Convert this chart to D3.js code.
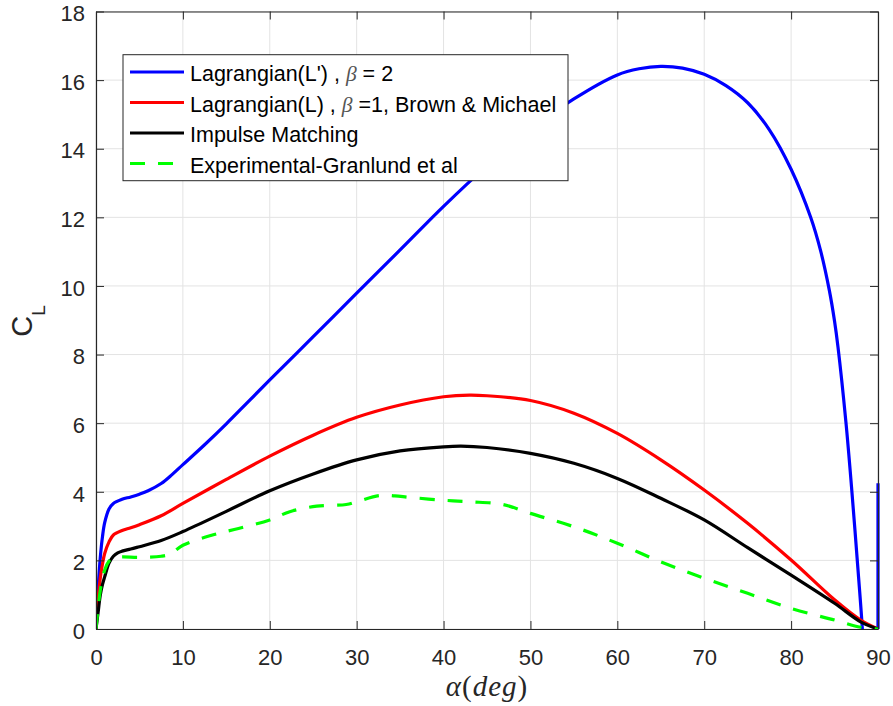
<!DOCTYPE html>
<html>
<head>
<meta charset="utf-8">
<script src="https://cdn.jsdelivr.net/npm/d3@7"></script>
<style>
  body { margin: 0; background: #fff; }
  text { font-family: "Liberation Sans", Arial, Helvetica, sans-serif; }
</style>
</head>
<body>
<svg id="chart" width="893" height="706"></svg>
<script>
// Axis ticks
const alphaTicks = [0, 10, 20, 30, 40, 50, 60, 70, 80, 90];
const clTicks = [0, 2, 4, 6, 8, 10, 12, 14, 16, 18];

// Lagrangian (L'), beta = 2
const lagPrimeAlpha = [0, 0.25, 0.5, 0.75, 1, 1.5, 2, 3, 4, 5, 6, 7.5, 8.75, 10, 12.5, 15, 17.5, 20, 25, 30, 35, 40, 45, 50, 55, 60, 62.5, 65, 67.5, 70, 72.5, 75, 77.5, 80, 82.25, 83.4, 84.4, 85.0, 85.4, 86.3, 86.95, 87.6, 88.2, 88.6, 89, 89.5, 89.9, 90];
const lagPrimeCL    = [0, 1.2, 2.1, 2.7, 3.1, 3.5, 3.66, 3.78, 3.85, 3.93, 4.03, 4.24, 4.5, 4.79, 5.37, 5.98, 6.62, 7.26, 8.52, 9.79, 11.05, 12.32, 13.5, 14.55, 15.45, 16.15, 16.33, 16.40, 16.35, 16.17, 15.84, 15.34, 14.55, 13.4, 12.0, 11.02, 9.87, 8.97, 8.21, 6.05, 4.15, 2.05, 0, -2, -6, -15, -40, 4.25];

// Lagrangian (L), beta = 1, Brown & Michael
const lagAlpha = [0, 0.25, 0.5, 0.75, 1, 1.5, 2, 3, 4, 5, 7.5, 10, 15, 20, 25, 30, 35, 40, 43, 45, 50, 55, 60, 65, 70, 75, 80, 85, 88, 90];
const lagCL    = [0, 0.9, 1.5, 1.9, 2.2, 2.54, 2.74, 2.87, 2.95, 3.04, 3.3, 3.66, 4.36, 5.04, 5.65, 6.17, 6.53, 6.77, 6.82, 6.8, 6.66, 6.29, 5.70, 4.93, 4.05, 3.08, 2.01, 0.85, 0.26, 0];

// Impulse matching
const impAlpha = [0, 0.25, 0.5, 0.75, 1, 1.5, 2, 2.5, 3, 4, 5, 7.5, 10, 15, 20, 25, 30, 35, 40, 42, 45, 50, 55, 60, 65, 70, 75, 80, 85, 88, 90];
const impCL    = [0, 0.5, 1.0, 1.3, 1.52, 1.92, 2.12, 2.22, 2.27, 2.33, 2.40, 2.58, 2.84, 3.43, 4.03, 4.52, 4.93, 5.19, 5.31, 5.33, 5.29, 5.12, 4.83, 4.39, 3.81, 3.18, 2.37, 1.57, 0.75, 0.21, 0];

// Experimental, Granlund et al
const expAlpha = [0, 0.5, 1, 1.5, 2, 3, 5, 7.5, 8.5, 10, 13.4, 16.4, 20, 22.3, 25.4, 28.8, 30, 32.6, 34.4, 36, 39.6, 43, 46.8, 50, 55, 60, 65, 70, 75, 80, 85, 88, 90];
const expCL    = [0, 1.14, 1.72, 1.98, 2.08, 2.1, 2.09, 2.12, 2.18, 2.44, 2.74, 2.93, 3.18, 3.42, 3.58, 3.63, 3.71, 3.89, 3.88, 3.84, 3.76, 3.71, 3.63, 3.37, 2.98, 2.50, 1.96, 1.48, 1.04, 0.60, 0.26, 0.05, 0];

const seriesNames = [
  ["Lagrangian(L') , ", "β", " = 2"],
  ["Lagrangian(L) , ", "β", " =1, Brown & Michael"],
  ["Impulse Matching"],
  ["Experimental-Granlund et al"]
];

const series = [
  { a: lagPrimeAlpha, v: lagPrimeCL, color: "#0000ff", dash: null },
  { a: lagAlpha,      v: lagCL,      color: "#ff0000", dash: null },
  { a: impAlpha,      v: impCL,      color: "#000000", dash: null },
  { a: expAlpha,      v: expCL,      color: "#00ff00", dash: "15,13" }
];

const svg = d3.select("#chart");
const plotLeft = 96, plotRight = 878, plotTop = 11.5, plotBottom = 629;
const axisColor = "#262626";

const x = d3.scaleLinear().domain([0, 90]).range([plotLeft, plotRight]);
const y = d3.scaleLinear().domain([0, 18]).range([plotBottom, plotTop]);

// grid
const grid = svg.append("g");
grid.selectAll(".gx").data(alphaTicks).join("line")
  .attr("x1", d => x(d)).attr("x2", d => x(d))
  .attr("y1", plotTop).attr("y2", plotBottom)
  .attr("stroke", "#e3e3e3").attr("stroke-width", 1);
grid.selectAll(".gy").data(clTicks).join("line")
  .attr("x1", plotLeft).attr("x2", plotRight)
  .attr("y1", d => y(d)).attr("y2", d => y(d))
  .attr("stroke", "#e3e3e3").attr("stroke-width", 1);

// clip to the axes box
svg.append("defs").append("clipPath").attr("id", "plotClip")
  .append("rect").attr("x", plotLeft).attr("y", plotTop)
  .attr("width", plotRight - plotLeft + 2).attr("height", plotBottom - plotTop);

const line = d3.line()
  .x(d => x(d[0])).y(d => y(d[1]))
  .curve(d3.curveCatmullRom.alpha(0.5));

const lines = svg.append("g").attr("clip-path", "url(#plotClip)");
series.forEach(s => {
  const pts = s.a.map((a, i) => [a, s.v[i]]);
  lines.append("path")
    .attr("d", line(pts))
    .attr("fill", "none")
    .attr("stroke", s.color)
    .attr("stroke-width", 3.2)
    .attr("stroke-linejoin", "round")
    .attr("stroke-dasharray", s.dash);
});

// axes (box with inward ticks)
function styleAxis(g) {
  g.selectAll("path.domain").attr("stroke", axisColor).attr("stroke-width", 1.2).attr("fill", "none");
  g.selectAll(".tick line").attr("stroke", axisColor).attr("stroke-width", 1);
  g.selectAll(".tick text").attr("fill", axisColor)
    .style("font-family", '"Liberation Sans", Arial, Helvetica, sans-serif')
    .style("font-size", "22px");
}

svg.append("g").attr("transform", `translate(0,${plotBottom})`)
  .call(d3.axisBottom(x).tickValues(alphaTicks).tickSizeInner(-8).tickSizeOuter(0).tickPadding(20))
  .call(styleAxis);
svg.append("g").attr("transform", `translate(0,${plotTop})`)
  .call(d3.axisTop(x).tickValues(alphaTicks).tickSizeInner(-8).tickSizeOuter(0).tickFormat(""))
  .call(styleAxis);
const yAxisG = svg.append("g").attr("transform", `translate(${plotLeft},0)`)
  .call(d3.axisLeft(y).tickValues(clTicks).tickSizeInner(-8).tickSizeOuter(0).tickPadding(11))
  .call(styleAxis);
yAxisG.selectAll(".tick text").attr("dy", "0.42em");
svg.append("g").attr("transform", `translate(${plotRight},0)`)
  .call(d3.axisRight(y).tickValues(clTicks).tickSizeInner(-8).tickSizeOuter(0).tickFormat(""))
  .call(styleAxis);

// y label C_L
const yl = svg.append("text")
  .attr("transform", "translate(32,321) rotate(-90)")
  .attr("text-anchor", "middle")
  .attr("fill", axisColor)
  .style("font-size", "29px");
yl.append("tspan").text("C");
yl.append("tspan").attr("dy", 13).style("font-size", "19px").text("L");

// x label alpha(deg)
const xl = svg.append("text")
  .attr("x", (plotLeft + plotRight) / 2).attr("y", 696)
  .attr("text-anchor", "middle")
  .attr("fill", axisColor)
  .style("font-family", '"Liberation Serif", "DejaVu Serif", serif')
  .style("font-size", "29px")
  .style("letter-spacing", "1px");
xl.append("tspan").style("font-style", "italic").text("α");
xl.append("tspan").text("(");
xl.append("tspan").style("font-style", "italic").text("deg");
xl.append("tspan").text(")");

// legend
const lg = svg.append("g");
lg.append("rect")
  .attr("x", 123).attr("y", 54.7).attr("width", 445).attr("height", 126)
  .attr("fill", "#fff").attr("stroke", axisColor).attr("stroke-width", 1);
const rowY = [72, 102.5, 133, 163.5];
series.forEach((s, i) => {
  lg.append("line")
    .attr("x1", 130).attr("x2", 184).attr("y1", rowY[i]).attr("y2", rowY[i])
    .attr("stroke", s.color).attr("stroke-width", 3.2)
    .attr("stroke-dasharray", s.dash);
  const t = lg.append("text")
    .attr("x", 190).attr("y", rowY[i] + 9.3)
    .attr("fill", "#000")
    .style("font-size", "21.5px")
    .style("white-space", "pre");
  seriesNames[i].forEach(part => {
    const ts = t.append("tspan").text(part);
    if (part === "β") {
      ts.style("font-family", '"Liberation Serif", "DejaVu Serif", serif')
        .style("font-style", "italic").attr("fill", "#555");
    }
  });
});
</script>
</body>
</html>
